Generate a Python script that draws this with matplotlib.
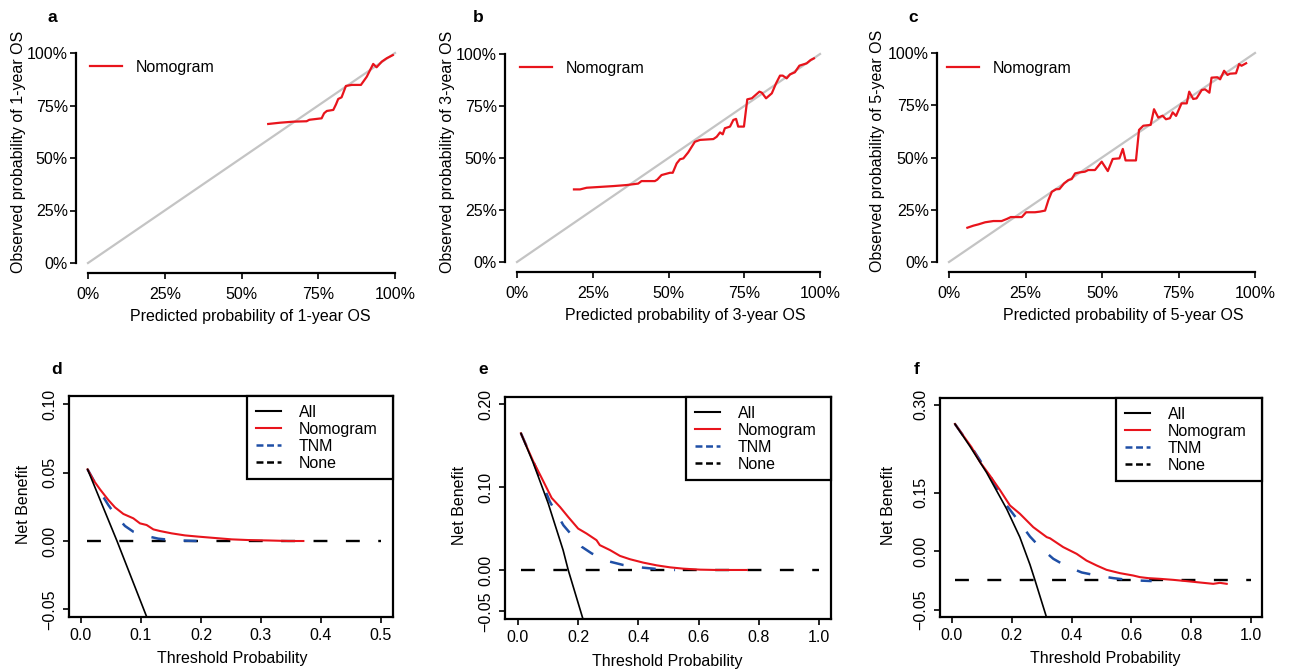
import matplotlib
matplotlib.use("Agg")
import matplotlib.pyplot as plt
from matplotlib.lines import Line2D

plt.rcParams['font.family'] = ['Liberation Sans', 'DejaVu Sans']
plt.rcParams['lines.scale_dashes'] = False

# ---------------- calibration curves (top row) ----------------
ideal = [0.0, 1.0]

cal1_x = [0.587, 0.625, 0.669, 0.712, 0.721, 0.761, 0.769, 0.778, 0.799, 0.808, 0.815,
          0.826, 0.840, 0.859, 0.889, 0.908, 0.929, 0.940, 0.957, 0.973, 0.993]
cal1_y = [0.662, 0.668, 0.673, 0.675, 0.682, 0.689, 0.713, 0.724, 0.729, 0.756, 0.781,
          0.789, 0.843, 0.848, 0.848, 0.887, 0.948, 0.932, 0.959, 0.975, 0.990]

cal3_x = [0.188, 0.208, 0.230, 0.274, 0.318, 0.362, 0.400, 0.411, 0.455, 0.463, 0.477,
          0.505, 0.514, 0.527, 0.538, 0.549, 0.565, 0.587, 0.604, 0.648, 0.659, 0.670,
          0.679, 0.686, 0.703, 0.714, 0.723, 0.730, 0.749, 0.760, 0.775, 0.800, 0.808,
          0.822, 0.841, 0.855, 0.868, 0.877, 0.890, 0.901, 0.917, 0.932, 0.945, 0.956,
          0.969, 0.980]
cal3_y = [0.349, 0.349, 0.357, 0.361, 0.365, 0.370, 0.377, 0.389, 0.389, 0.396, 0.418,
          0.429, 0.429, 0.474, 0.494, 0.498, 0.527, 0.578, 0.587, 0.591, 0.602, 0.623,
          0.614, 0.643, 0.651, 0.683, 0.688, 0.651, 0.651, 0.782, 0.787, 0.819, 0.814,
          0.787, 0.811, 0.859, 0.896, 0.896, 0.883, 0.902, 0.912, 0.944, 0.950, 0.955,
          0.971, 0.979]

cal5_x = [0.060, 0.080, 0.096, 0.118, 0.145, 0.172, 0.189, 0.202, 0.238, 0.252, 0.281,
          0.297, 0.314, 0.325, 0.336, 0.350, 0.361, 0.376, 0.390, 0.401, 0.412, 0.428,
          0.444, 0.455, 0.477, 0.499, 0.519, 0.535, 0.557, 0.568, 0.577, 0.611, 0.621,
          0.635, 0.659, 0.670, 0.684, 0.698, 0.709, 0.722, 0.731, 0.742, 0.760, 0.777,
          0.785, 0.798, 0.809, 0.826, 0.837, 0.851, 0.858, 0.877, 0.886, 0.899, 0.910,
          0.918, 0.938, 0.948, 0.956, 0.971]
cal5_y = [0.164, 0.174, 0.180, 0.190, 0.196, 0.196, 0.206, 0.215, 0.215, 0.238, 0.238,
          0.241, 0.246, 0.297, 0.336, 0.348, 0.349, 0.376, 0.392, 0.397, 0.424, 0.429,
          0.432, 0.440, 0.440, 0.480, 0.435, 0.493, 0.496, 0.541, 0.486, 0.486, 0.632,
          0.652, 0.656, 0.731, 0.691, 0.700, 0.683, 0.688, 0.716, 0.699, 0.759, 0.759,
          0.815, 0.780, 0.783, 0.823, 0.826, 0.810, 0.882, 0.884, 0.874, 0.915, 0.895,
          0.901, 0.903, 0.947, 0.939, 0.951]

pct_ticks = [0, 0.25, 0.5, 0.75, 1.0]
pct_labels = ['0%', '25%', '50%', '75%', '100%']

# ---------------- decision curves (bottom row) ----------------
# d: 1-year
all_d_x = [0.011, 0.060, 0.1094]
all_d_y = [0.0524, 0.0, -0.0554]
nomo_d_x = [0.011, 0.0206, 0.0317, 0.0456, 0.0567, 0.0706, 0.0872, 0.0983, 0.1094, 0.1206,
            0.1317, 0.1511, 0.1733, 0.1956, 0.2233, 0.2511, 0.2789, 0.3122, 0.3456, 0.3706]
nomo_d_y = [0.0524, 0.0446, 0.0378, 0.0300, 0.0246, 0.0198, 0.0166, 0.0129, 0.0117, 0.0085,
            0.0073, 0.0056, 0.0041, 0.0032, 0.0022, 0.0012, 0.0007, 0.0004, 0.0, 0.0]
tnm_d_x = [0.011, 0.0317, 0.0456, 0.0594, 0.0733, 0.0872, 0.1067, 0.1289, 0.1567, 0.1928]
tnm_d_y = [0.0524, 0.0361, 0.0263, 0.0178, 0.0110, 0.0068, 0.0039, 0.0017, 0.0005, 0.0]
none_d_x = [0.01, 0.50]
none_d_y = [0.0, 0.0]

# e: 3-year
all_e_x = [0.01, 0.05, 0.10, 0.15, 0.167, 0.215]
all_e_y = [0.165, 0.130, 0.081, 0.024, 0.0, -0.058]
nomo_e_x = [0.01, 0.029, 0.051, 0.079, 0.112, 0.140, 0.167, 0.200, 0.228, 0.261, 0.272,
            0.306, 0.339, 0.372, 0.416, 0.461, 0.505, 0.549, 0.605, 0.660, 0.760]
nomo_e_y = [0.165, 0.149, 0.131, 0.111, 0.087, 0.076, 0.064, 0.050, 0.044, 0.036, 0.030,
            0.024, 0.017, 0.013, 0.0089, 0.0056, 0.0032, 0.0016, 0.0004, 0.0, 0.0]
tnm_e_x = [0.01, 0.051, 0.106, 0.151, 0.212, 0.245, 0.306, 0.350, 0.416, 0.472, 0.522]
tnm_e_y = [0.165, 0.131, 0.0825, 0.054, 0.028, 0.020, 0.010, 0.006, 0.0028, 0.0008, 0.0]
none_e_x = [0.01, 1.0]
none_e_y = [0.0, 0.0]

# f: 5-year
all_f_x = [0.01, 0.06, 0.116, 0.183, 0.227, 0.261, 0.278, 0.317]
all_f_y = [0.267, 0.229, 0.184, 0.122, 0.074, 0.027, 0.0, -0.064]
nomo_f_x = [0.010, 0.038, 0.066, 0.094, 0.127, 0.161, 0.194, 0.227, 0.272, 0.317, 0.328,
            0.372, 0.417, 0.450, 0.484, 0.517, 0.562, 0.606, 0.629, 0.657, 0.696, 0.740,
            0.785, 0.829, 0.874, 0.896, 0.919]
nomo_f_y = [0.267, 0.247, 0.227, 0.202, 0.179, 0.154, 0.128, 0.114, 0.091, 0.074, 0.072,
            0.057, 0.0455, 0.034, 0.0256, 0.0182, 0.0125, 0.0085, 0.0057, 0.0040, 0.0028,
            0.0011, -0.0011, -0.0034, -0.0057, -0.0040, -0.0057]
tnm_f_x = [0.010, 0.066, 0.127, 0.183, 0.222, 0.261, 0.294, 0.339, 0.384, 0.434, 0.484,
           0.540, 0.595, 0.668]
tnm_f_y = [0.267, 0.227, 0.179, 0.128, 0.102, 0.075, 0.057, 0.037, 0.024, 0.0137, 0.0085,
           0.0040, 0.0006, -0.001]
none_f_x = [0.01, 1.0]
none_f_y = [0.0, 0.0]

RED = '#e8141c'
BLUE = '#1f4fa6'
GREY = '#c4c4c4'
FS = 11.5

W, H = 1293, 671
fig = plt.figure(figsize=(W / 100, H / 100), dpi=100)


def px_axes(x0, y0, x1, y1):
    """axes from pixel box (left, top, right, bottom)"""
    return fig.add_axes([x0 / W, 1 - y1 / H, (x1 - x0) / W, (y1 - y0) / H])


def calibration(box, xs, ys, years, leg_xy, lab_x, lab_y):
    ax = px_axes(*box)
    ax.plot(ideal, ideal, color=GREY, lw=1.6, clip_on=False)
    ax.plot(xs, ys, color=RED, lw=1.6, label='Nomogram', clip_on=False)
    ax.set_xlim(0, 1)
    ax.set_ylim(0, 1)
    for s in ['top', 'right']:
        ax.spines[s].set_visible(False)
    ax.spines['left'].set_position(('outward', 8.5))
    ax.spines['bottom'].set_position(('outward', 7))
    for s in ['left', 'bottom']:
        ax.spines[s].set_linewidth(1.6)
    ax.set_xticks(pct_ticks)
    ax.set_xticklabels(pct_labels)
    ax.set_yticks(pct_ticks)
    ax.set_yticklabels(pct_labels)
    ax.tick_params(axis='both', labelsize=FS, length=4.5, width=1.2, color='black')
    ax.tick_params(axis='y', pad=1.5)
    ax.tick_params(axis='x', pad=6)
    ax.legend(loc='center left', bbox_to_anchor=leg_xy, frameon=False, fontsize=FS,
              borderpad=0, borderaxespad=0, handlelength=2.0, handletextpad=0.85)
    ax.text(lab_x, -0.255, 'Predicted probability of %s-year OS' % years,
            transform=ax.transAxes, ha='center', va='center', fontsize=FS)
    ax.text(lab_y, 0.53, 'Observed probability of %s-year OS' % years,
            transform=ax.transAxes, ha='center', va='center', rotation=90, fontsize=FS)
    return ax


calibration((88, 53, 395, 263), cal1_x, cal1_y, 1, (0.007, 0.932), 0.53, -0.228)
calibration((517, 54, 820, 262), cal3_x, cal3_y, 3, (0.010, 0.932), 0.557, -0.231)
calibration((949, 53, 1255, 262), cal5_x, cal5_y, 5, (-0.005, 0.927), 0.569, -0.235)


def decision(box, xlim, ylim, xticks, yticks, ylabels, curves, leg_x0, lab_x, lab_y):
    ax = px_axes(*box)
    (ax_x, ax_y), (nx, ny), (tx, ty), (zx, zy) = curves
    dash = (0, (10, 13.3))
    ax.plot(zx, zy, color='black', lw=1.7, linestyle=dash)
    ax.plot(tx, ty, color=BLUE, lw=1.8, linestyle=dash)
    ax.plot(nx, ny, color=RED, lw=1.5)
    ax.plot(ax_x, ax_y, color='black', lw=1.2)
    ax.set_xlim(*xlim)
    ax.set_ylim(*ylim)
    for s in ax.spines.values():
        s.set_linewidth(1.6)
    ax.set_xticks(xticks)
    ax.set_xticklabels(['%.1f' % t for t in xticks])
    ax.set_yticks(yticks)
    ax.set_yticklabels(ylabels, rotation=90, va='center')
    ax.tick_params(axis='both', labelsize=FS, length=4.5, width=1.2)
    ax.tick_params(axis='x', pad=3.5)
    ax.tick_params(axis='y', pad=4)
    handles = [Line2D([], [], color='black', lw=1.5),
               Line2D([], [], color=RED, lw=1.5),
               Line2D([], [], color=BLUE, lw=1.8, linestyle=(0, (5, 2.6))),
               Line2D([], [], color='black', lw=1.8, linestyle=(0, (5, 2.6)))]
    # R-style legend box: wide, flush with the top right corner
    leg = ax.legend(handles, ['All', 'Nomogram', 'TNM', 'None'], loc='upper right',
                    bbox_to_anchor=(leg_x0, 0.0, 1 - leg_x0, 1.0), mode='expand',
                    borderaxespad=0, fontsize=FS, fancybox=False,
                    framealpha=1, edgecolor='black', handlelength=1.6, handletextpad=1.1,
                    labelspacing=0.12, borderpad=0.55)
    leg.get_frame().set_linewidth(1.6)
    ax.text(lab_x, -0.19, 'Threshold Probability', transform=ax.transAxes,
            ha='center', va='center', fontsize=FS)
    ax.text(lab_y, 0.51, 'Net Benefit', transform=ax.transAxes,
            ha='center', va='center', rotation=90, fontsize=FS)
    return ax


decision((69, 396, 393, 617), (-0.02, 0.52), (-0.0556, 0.1061),
         [0.0, 0.1, 0.2, 0.3, 0.4, 0.5], [-0.05, 0.0, 0.05, 0.10],
         ['\u22120.05', '0.00', '0.05', '0.10'],
         [(all_d_x, all_d_y), (nomo_d_x, nomo_d_y), (tnm_d_x, tnm_d_y), (none_d_x, none_d_y)],
         0.549, 0.503, -0.139)
decision((505, 397, 831, 619), (-0.043, 1.040), (-0.0592, 0.2089),
         [0.0, 0.2, 0.4, 0.6, 0.8, 1.0], [-0.05, 0.0, 0.10, 0.20],
         ['\u22120.05', '0.00', '0.10', '0.20'],
         [(all_e_x, all_e_y), (nomo_e_x, nomo_e_y), (tnm_e_x, tnm_e_y), (none_e_x, none_e_y)],
         0.555, 0.497, -0.141)
# tick labels on panel f follow the original figure as printed
decision((940, 398, 1262, 617), (-0.040, 1.037), (-0.0623, 0.3114),
         [0.0, 0.2, 0.4, 0.6, 0.8, 1.0], [-0.05, 0.05, 0.15, 0.30],
         ['\u22120.05', '0.00', '0.15', '0.30'],
         [(all_f_x, all_f_y), (nomo_f_x, nomo_f_y), (tnm_f_x, tnm_f_y), (none_f_x, none_f_y)],
         0.547, 0.512, -0.161)

# panel letters
for letter, (x, y) in zip('abcdef', [(52, 17), (478, 17), (913, 17),
                                      (57, 370), (483, 370), (917, 370)]):
    fig.text(x / W, 1 - y / H, letter, fontsize=12.5, fontweight='bold',
             ha='center', va='center')

fig.savefig('out.png', dpi=100)
